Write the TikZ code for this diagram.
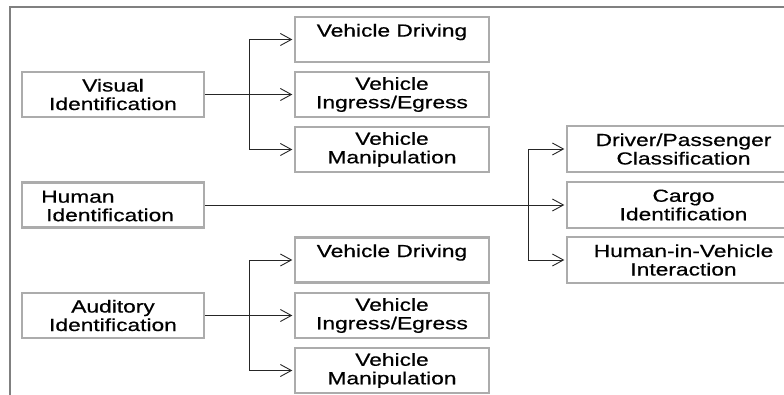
\documentclass[tikz,border=0pt]{standalone}
\usepackage{fontspec}
\setmainfont[FakeStretch=1.3,FakeBold=0.6]{Liberation Sans}
\usetikzlibrary{arrows.meta}
\definecolor{boxgray}{RGB}{172,172,172}
\definecolor{framegray}{RGB}{128,128,128}
\tikzset{
  x=1pt, y=-1pt,
  box/.style={draw=boxgray, line width=2.4pt, fill=white, inner sep=0pt,
    align=center, font=\fontsize{17.5}{18.5}\selectfont},
  lbox/.style={box, minimum width=182pt, minimum height=45pt},
  mbox/.style={box, minimum width=194pt, minimum height=45pt},
  rbox/.style={box, minimum width=233pt, minimum height=46pt},
  conn/.style={draw=black!85, line width=0.9pt},
  arr/.style={conn, -{Straight Barb[length=11pt,width=12pt,line width=0.9pt]}, shorten >=1.5pt},
}
\begin{document}
\begin{tikzpicture}
\clip (0,0) rectangle (784,395);
\fill[white] (0,0) rectangle (784,395);
% frame
\draw[framegray, line width=1.4pt] (10,395) -- (10,7) -- (784,7);

% left column
\node[lbox] (vis) at (113,94.5) {Visual\\Identification};
\node[lbox, align=left] (hum) at (113,205) {};
\node[anchor=west, align=left, inner sep=0pt, font=\fontsize{17.5}{18.5}\selectfont] (humt) at (41,206) {Human\\\hspace{5pt}Identification};
\node[lbox] (aud) at (113,315.5) {Auditory\\Identification};

% middle top
\node[mbox] (vd1) at (392,39.5) {Vehicle Driving\\~};
\node[mbox] (vi1) at (392,94.5) {Vehicle\\Ingress/Egress};
\node[mbox] (vm1) at (392,149.5) {Vehicle\\Manipulation};

% middle bottom
\node[mbox] (vd2) at (392,260) {Vehicle Driving\\~};
\node[mbox] (vi2) at (392,315.5) {Vehicle\\Ingress/Egress};
\node[mbox] (vm2) at (392,370.5) {Vehicle\\Manipulation};

% right
\node[rbox] (dp) at (683.5,149) {Driver/Passenger\\Classification};
\node[rbox] (cg) at (683.5,205) {Cargo\\Identification};
\node[rbox] (hv) at (683.5,260) {Human-in-Vehicle\\Interaction};

% junctions
\coordinate (j1) at (249,94.5);
\coordinate (j2) at (528,205);
\coordinate (j3) at (249,315.5);

% connectors
\draw[arr] (vis.east) -- (vi1.west);
\draw[arr] (j1) |- (vd1.west);
\draw[arr] (j1) |- (vm1.west);

\draw[arr] (hum.east) -- (cg.west);
\draw[arr] (j2) |- (dp.west);
\draw[arr] (j2) |- (hv.west);

\draw[arr] (aud.east) -- (vi2.west);
\draw[arr] (j3) |- (vd2.west);
\draw[arr] (j3) |- (vm2.west);
\end{tikzpicture}
\end{document}
